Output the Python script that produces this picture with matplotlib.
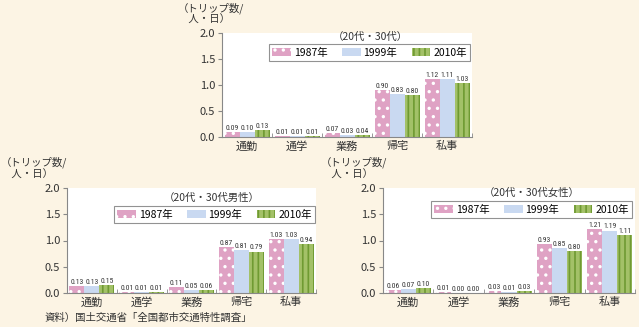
import matplotlib
matplotlib.use("Agg")
import matplotlib.pyplot as plt
import numpy as np
from matplotlib.patches import Patch
from matplotlib import font_manager as fm

plt.rcParams['font.family'] = ['Noto Sans CJK JP', 'DejaVu Sans']
plt.rcParams['hatch.linewidth'] = 1.2

names = {f.name for f in fm.fontManager.ttflist}
narrow = [n for n in ["Liberation Sans Narrow", "DejaVu Sans Condensed", "Roboto Condensed"] if n in names]
NARROW_FAMILY = narrow + ["DejaVu Sans"]

categories = ["通勤", "通学", "業務", "帰宅", "私事"]
years = ["1987年", "1999年", "2010年"]

all_1987 = [0.09, 0.01, 0.07, 0.90, 1.12]
all_1999 = [0.10, 0.01, 0.03, 0.83, 1.11]
all_2010 = [0.13, 0.01, 0.04, 0.80, 1.03]

male_1987 = [0.13, 0.01, 0.11, 0.87, 1.03]
male_1999 = [0.13, 0.01, 0.05, 0.81, 1.03]
male_2010 = [0.15, 0.01, 0.06, 0.79, 0.94]

female_1987 = [0.06, 0.01, 0.03, 0.93, 1.21]
female_1999 = [0.07, 0.00, 0.01, 0.85, 1.19]
female_2010 = [0.10, 0.00, 0.03, 0.80, 1.11]

titles = ["（20代・30代）", "（20代・30代男性）", "（20代・30代女性）"]
ylabel = "（トリップ数/\n　人・日）"
source = "資料）国土交通省「全国都市交通特性調査」"

BG = "#FCF4E4"
PINK = "#DFA2C4"
BLUE = "#C9D9F1"
GREEN = "#A3C168"
GREEN_D = "#6F9A32"

styles = [
    dict(color=PINK, edgecolor="white", hatch=".."),
    dict(color=BLUE, edgecolor=BLUE, hatch=None),
    dict(color=GREEN, edgecolor=GREEN_D, hatch="|||"),
]

fig = plt.figure(figsize=(6.39, 3.27), dpi=100, facecolor=BG)

def panel(rect, series, title, leg_rect, title_xy, ylab_xy):
    ax = fig.add_axes(rect)
    ax.set_facecolor("white")
    x = np.arange(len(categories))
    w = 0.30
    for k, (vals, st) in enumerate(zip(series, styles)):
        pos = x + (k - 1) * w
        ax.bar(pos, vals, width=w, color=st["color"], edgecolor=st["edgecolor"],
               hatch=st["hatch"], linewidth=0)
        for p, v in zip(pos, vals):
            ax.text(p, v + 0.02, f"{v:.2f}", ha="center", va="bottom",
                    fontsize=5.5, family=NARROW_FAMILY, stretch="condensed",
                    color="#333333")
    ax.set_xlim(-0.5, 4.5)
    ax.set_ylim(0, 2.0)
    ax.set_yticks([0, 0.5, 1.0, 1.5, 2.0])
    ax.set_yticklabels(["0.0", "0.5", "1.0", "1.5", "2.0"], fontsize=8, color="#333333")
    ax.set_xticks(x)
    ax.set_xticklabels(categories, fontsize=8, color="#333333")
    ax.tick_params(axis="x", length=0, pad=3)
    ax.set_xticks(np.arange(0.5, 5.0, 1.0), minor=True)
    ax.tick_params(axis="x", which="minor", direction="in", length=3, color="#888888")
    ax.tick_params(axis="y", length=3, color="#888888", pad=2)
    for s in ["top", "right"]:
        ax.spines[s].set_visible(False)
    for s in ["left", "bottom"]:
        ax.spines[s].set_color("#888888")
        ax.spines[s].set_linewidth(0.8)
    handles = [Patch(facecolor=st["color"], edgecolor=st["edgecolor"], hatch=st["hatch"], linewidth=0)
               for st in styles]
    leg = ax.legend(handles, years, loc="center", bbox_to_anchor=leg_rect,
                    bbox_transform=fig.transFigure, ncol=3, fontsize=7.5,
                    frameon=True, fancybox=False, handlelength=1.8, handleheight=0.9,
                    handletextpad=0.25, columnspacing=1.4, borderpad=0.35,
                    borderaxespad=0)
    leg.get_frame().set_edgecolor("#777777")
    leg.get_frame().set_linewidth(0.8)
    fig.text(title_xy[0], title_xy[1], title, ha="center", va="center", fontsize=7.5, color="#333333")
    fig.text(ylab_xy[0], ylab_xy[1], ylabel, ha="left", va="top", fontsize=7.5,
             color="#333333", linespacing=1.1)
    return ax

W, H = 639, 327
def fx(px): return px / W
def fy(py): return 1 - py / H

panel([fx(222), fy(137), fx(472) - fx(222), fy(33) - fy(137)],
      [all_1987, all_1999, all_2010], titles[0],
      (fx(369.5), fy(52.5), 0, 0), (fx(370), fy(37)), (fx(178), fy(2)))

panel([fx(67), fy(293), fx(316) - fx(67), fy(188) - fy(293)],
      [male_1987, male_1999, male_2010], titles[1],
      (fx(214.5), fy(214.5), 0, 0), (fx(212), fy(198)), (fx(1), fy(157)))

panel([fx(383), fy(293), fx(635) - fx(383), fy(188) - fy(293)],
      [female_1987, female_1999, female_2010], titles[2],
      (fx(531.5), fy(209.5), 0, 0), (fx(532), fy(193)), (fx(321), fy(157)))

fig.text(fx(45), fy(318), source, ha="left", va="center", fontsize=7.5, color="#333333")

fig.savefig("out.png", dpi=100, facecolor=BG)
